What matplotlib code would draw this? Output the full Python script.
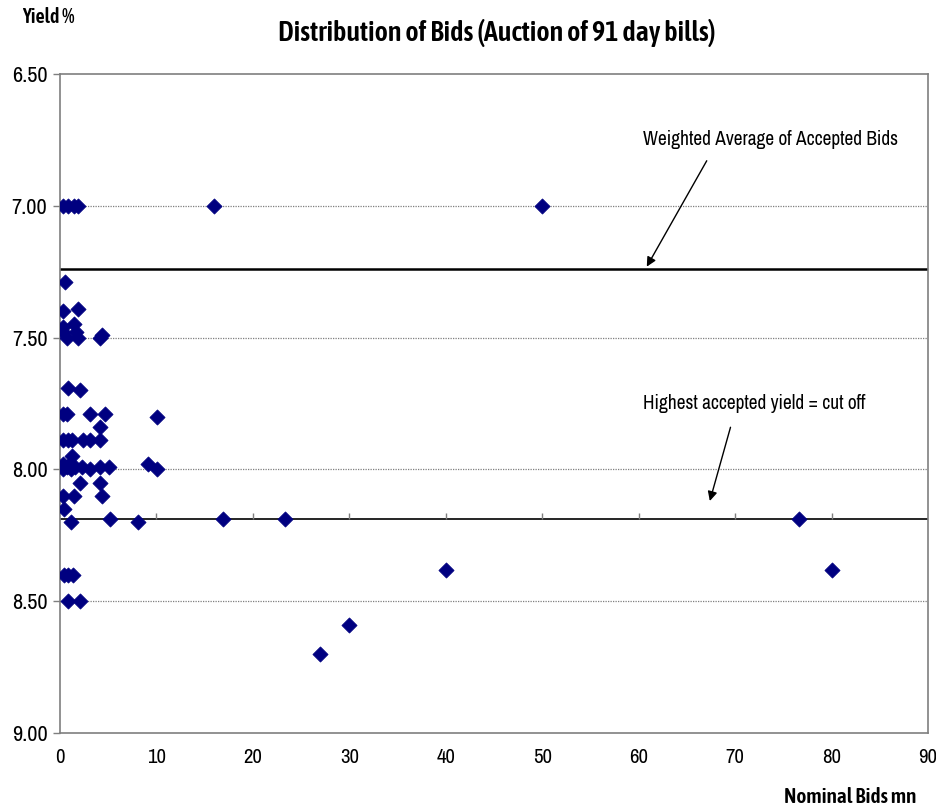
import matplotlib
matplotlib.use("Agg")
import matplotlib.pyplot as plt
from matplotlib.ticker import FormatStrFormatter
from matplotlib import font_manager

# narrow sans faces, if installed
def _w(v):
    if isinstance(v, int):
        return v
    return font_manager.weight_dict.get(str(v), 400)

cands = {}
order = []
for f in font_manager.fontManager.ttflist:
    if 'Narrow' in f.name or 'Condensed' in f.name:
        if f.name not in cands:
            order.append(f.name)
        cands.setdefault(f.name, set()).add(_w(f.weight))
reg_font = order[0] if order else None
bold_font = None
for name, ws in sorted(cands.items()):
    if any(w >= 600 for w in ws) and any(w <= 450 for w in ws):
        bold_font = name
        break
if bold_font is None:
    bold_font = reg_font
base = ['Liberation Sans', 'DejaVu Sans']
reg_fams = ([reg_font] if reg_font else []) + base
bold_fams = ([bold_font] if bold_font else []) + base
plt.rcParams['font.family'] = reg_fams
scale = 1.15 if reg_font else 1.0
bscale = 1.15 if bold_font else 1.0

# ---- data ----
bids_x = [0.35, 0.86, 1.4, 1.9, 16.0, 50.0,
          0.5,
          0.28, 1.9,
          0.35, 1.4, 0.35, 0.7, 1.7, 1.9, 4.15, 4.4,
          0.86, 2.1,
          0.35, 0.7, 3.1, 4.7, 10.1,
          4.15,
          0.35, 0.86, 1.2, 2.4, 3.1, 4.15,
          1.2,
          0.28, 0.35, 0.7, 1.04, 1.1, 1.56, 2.25, 3.1, 4.15, 5.1, 9.1, 10.1,
          2.1, 4.15,
          0.28, 1.4, 4.4,
          0.4,
          1.1, 5.2, 8.1, 16.9, 23.3, 76.6,
          0.4, 0.86, 1.3,
          40.0, 80.0,
          0.86, 2.07,
          30.0, 27.0]
bids_y = [7.00, 7.00, 7.00, 7.00, 7.00, 7.00,
          7.29,
          7.40, 7.39,
          7.46, 7.45, 7.48, 7.50, 7.48, 7.50, 7.50, 7.49,
          7.69, 7.70,
          7.79, 7.79, 7.79, 7.79, 7.80,
          7.84,
          7.89, 7.89, 7.89, 7.89, 7.89, 7.89,
          7.95,
          7.98, 8.00, 7.99, 7.98, 8.00, 7.99, 7.99, 8.00, 7.99, 7.99, 7.98, 8.00,
          8.05, 8.05,
          8.10, 8.10, 8.10,
          8.15,
          8.20, 8.19, 8.20, 8.19, 8.19, 8.19,
          8.40, 8.40, 8.40,
          8.38, 8.38,
          8.50, 8.50,
          8.59, 8.70]

weighted_avg = 7.24
cut_off = 8.19
x_ticks = [0, 10, 20, 30, 40, 50, 60, 70, 80, 90]
y_ticks = [6.50, 7.00, 7.50, 8.00, 8.50, 9.00]
grid_levels = [7.00, 7.50, 8.00, 8.50]

fig = plt.figure(figsize=(9.36, 8.06), dpi=100)
ax = fig.add_axes([60/936, 1-733/806, 868/936, 659/806])

ax.set_xlim(0, 90)
ax.set_ylim(9.0, 6.5)

for g in grid_levels:
    ax.axhline(g, color='#7f7f7f', lw=0.9, ls=(0, (1, 1)), zorder=1)

ax.axhline(weighted_avg, color='black', lw=1.8, zorder=2)
ax.axhline(cut_off, color='black', lw=1.2, zorder=2)
ax.vlines(x_ticks[1:-1], cut_off - 0.023, cut_off, color='#7f7f7f', lw=1, zorder=2)

ax.scatter(bids_x, bids_y, marker='D', s=60, color='#000080', edgecolors='#000080',
           linewidths=0.5, zorder=3)

ax.set_xticks(x_ticks)
ax.set_yticks(y_ticks)
ax.yaxis.set_major_formatter(FormatStrFormatter('%.2f'))
ax.tick_params(axis='x', length=0, pad=11, labelsize=13 * scale)
ax.tick_params(axis='y', length=5, width=1, color='#7f7f7f', pad=4, labelsize=14 * scale)
for sp in ax.spines.values():
    sp.set_color('#7f7f7f')
    sp.set_linewidth(1.2)

ax.annotate('', xy=(60.7, weighted_avg), xytext=(67.2, 6.82),
            arrowprops=dict(arrowstyle='-|>', color='black', lw=1, mutation_scale=14))
ax.text(60.5, 6.75, 'Weighted Average of Accepted Bids', fontsize=12.1 * scale,
        ha='left', va='center')
ax.annotate('', xy=(67.3, 8.13), xytext=(69.6, 7.83),
            arrowprops=dict(arrowstyle='-|>', color='black', lw=1, mutation_scale=14))
ax.text(60.5, 7.75, 'Highest accepted yield = cut off', fontsize=12.1 * scale,
        ha='left', va='center')

fig.text(497/936, 1-33/806, 'Distribution of Bids (Auction of 91 day bills)',
         fontsize=17.6 * bscale, fontweight='semibold', family=bold_fams,
         ha='center', va='center')
fig.text(22/936, 1-17/806, 'Yield %', fontsize=12.5 * bscale, fontweight='semibold',
         family=bold_fams, ha='left', va='center')
fig.text(916/936, 1-797/806, 'Nominal Bids mn', fontsize=13.3 * bscale, fontweight='semibold',
         family=bold_fams, ha='right', va='center')

fig.savefig('out.png', dpi=100)
